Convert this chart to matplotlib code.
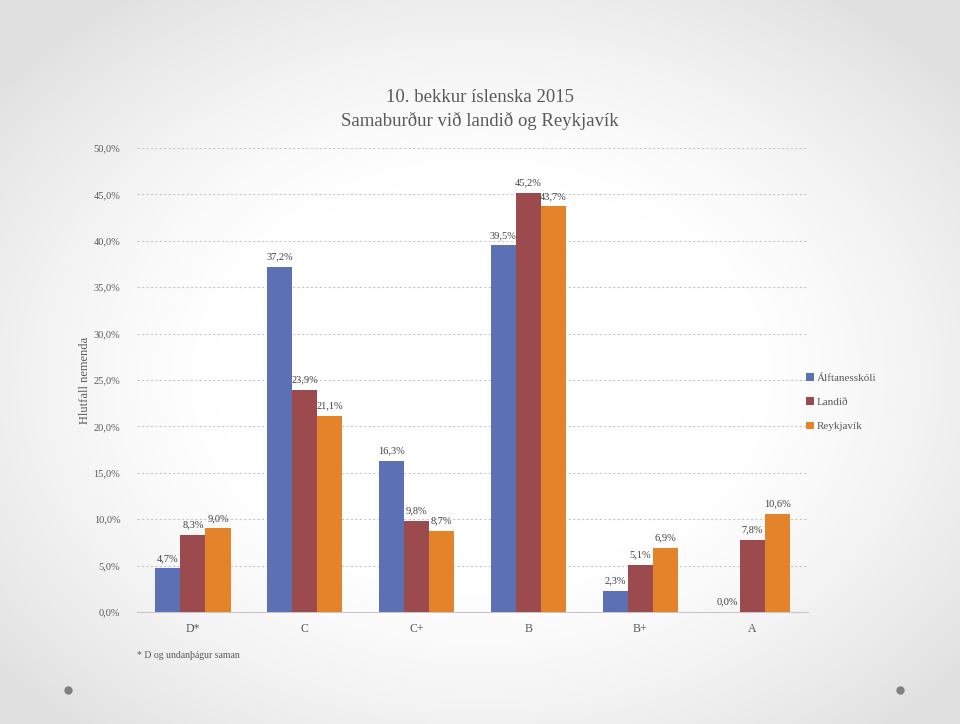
import numpy as np
import matplotlib
matplotlib.use("Agg")
import matplotlib.pyplot as plt

categories = ["D*", "C", "C+", "B", "B+", "A"]
series_names = ["Álftanesskóli", "Landið", "Reykjavík"]
alftanes = [4.7, 37.2, 16.3, 39.5, 2.3, 0.0]
landid = [8.3, 23.9, 9.8, 45.2, 5.1, 7.8]
reykjavik = [9.0, 21.1, 8.7, 43.7, 6.9, 10.6]
yticks = [0, 5, 10, 15, 20, 25, 30, 35, 40, 45, 50]
colors = ["#5B71B3", "#9B4A4D", "#E3842A"]

plt.rcParams['font.family'] = ['Liberation Serif', 'DejaVu Serif']

fig = plt.figure(figsize=(9.6, 7.24), dpi=100)

# background radial gradient
bg = fig.add_axes([0, 0, 1, 1], zorder=-10)
h, w = 362, 480
yy, xx = np.mgrid[0:h, 0:w]
cx, cy = w / 2, h * 0.52
r = np.sqrt(((xx - cx) / (w / 2)) ** 2 + ((yy - cy) / (h / 2)) ** 2)
v = 1.0 - 0.12 * np.clip((r - 0.55) / 0.75, 0, 1) ** 1.3
img = np.dstack([v, v, v])
bg.imshow(img, extent=[0, 1, 0, 1], aspect='auto', origin='upper')
bg.plot([68 / 960, 900 / 960], [1 - 690 / 724, 1 - 690 / 724], 'o', color='#808080', ms=5, ls='none')
bg.set_xlim(0, 1)
bg.set_ylim(0, 1)
bg.axis('off')

ax = fig.add_axes([137 / 960, 1 - 612 / 724, (808 - 137) / 960, (612 - 148) / 724])
ax.patch.set_alpha(0)

x = np.arange(len(categories))
bw = 0.225
for i, (vals, name) in enumerate(zip([alftanes, landid, reykjavik], series_names)):
    pos = x + (i - 1) * bw
    ax.bar(pos, vals, width=bw, color=colors[i], label=name, zorder=3)
    for p, val in zip(pos, vals):
        ax.text(p, val + 0.6, f"{val:.1f}%".replace('.', ','), ha='center', va='bottom',
                fontsize=7.5, color='#404040', zorder=4)

ax.set_ylim(0, 50)
ax.set_xlim(-0.5, len(categories) - 0.5)
ax.set_yticks(yticks)
ax.set_yticklabels([f"{t:.1f}%".replace('.', ',') for t in yticks], fontsize=7.5, color='#595959')
ax.set_xticks(x)
ax.set_xticklabels(categories, fontsize=8.5, color='#595959')
ax.tick_params(axis='both', length=0, pad=8)
ax.tick_params(axis='y', pad=12)
ax.yaxis.grid(True, color='#c8c8c8', linestyle=(0, (2, 2)), linewidth=0.8, zorder=0)
for s in ['top', 'right', 'left']:
    ax.spines[s].set_visible(False)
ax.spines['bottom'].set_color('#c8c8c8')
ax.spines['bottom'].set_linewidth(0.8)

ax.set_ylabel("Hlutfall nemenda", fontsize=9, color='#595959', labelpad=2)

fig.text(0.5, 1 - 97 / 724, "10. bekkur íslenska 2015", ha='center', va='center',
         fontsize=13.5, color='#595959')
fig.text(0.5, 1 - 121 / 724, "Samaburður við landið og Reykjavík", ha='center', va='center',
         fontsize=13.5, color='#595959')

fig.text(137 / 960, 1 - 655 / 724, "* D og undanþágur saman", ha='left', va='center',
         fontsize=7, color='#595959')

ax.legend(loc='center left', bbox_to_anchor=(0.982, 0.452), frameon=False,
          fontsize=8, handlelength=0.7, handleheight=0.7, handletextpad=0.3,
          labelspacing=1.3, labelcolor='#595959')

fig.savefig("out.png", dpi=100)
